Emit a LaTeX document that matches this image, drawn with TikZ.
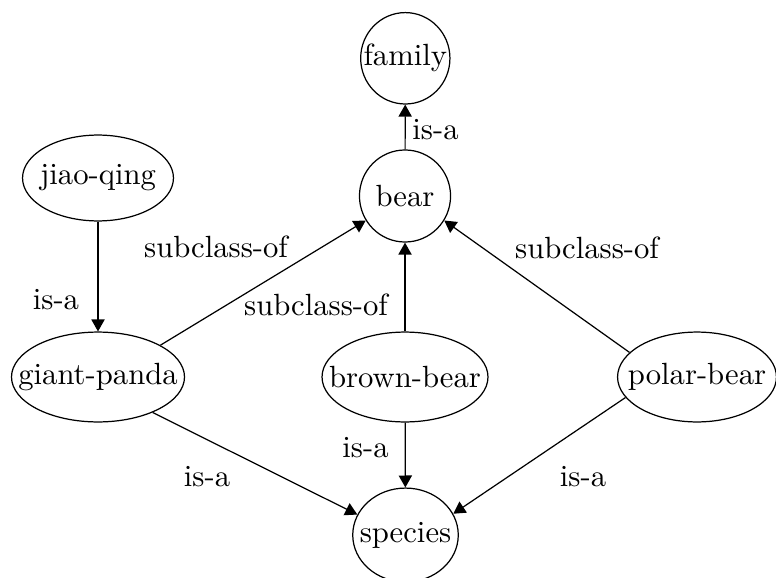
\documentclass[tikz,border=0pt]{standalone}
\usetikzlibrary{shapes.geometric,arrows.meta}
\newcommand\zb[1]{\makebox[0pt]{#1}}
\begin{document}
\begin{tikzpicture}[x=0.326pt,y=-0.326pt,
  nd/.style={draw,ellipse,inner sep=0pt,line width=0.4pt},
  lbl/.style={inner sep=0pt},
  edge/.style={-{Triangle[length=3.9pt,width=4.3pt]},line width=0.4pt}]
\useasboundingbox (0,0) rectangle (776,577);
% nodes
\node[nd,minimum width=29.1pt,minimum height=29.8pt] (family) at (405.3,58.3) {\zb{family}};
\node[nd,minimum width=29.7pt,minimum height=30.0pt] (bear) at (405,196) {\zb{bear}};
\node[nd,minimum width=49.2pt,minimum height=28.0pt] (jq) at (98,178) {\zb{jiao-qing}};
\node[nd,minimum width=56.4pt,minimum height=29.3pt] (gp) at (98,377) {\zb{giant-panda}};
\node[nd,minimum width=54.1pt,minimum height=29.3pt] (bb) at (405,377) {\zb{brown-bear}};
\node[nd,minimum width=51.8pt,minimum height=29.3pt] (pb) at (697,377) {\zb{polar-bear}};
\node[nd,minimum width=34.4pt,minimum height=30.6pt] (species) at (405.5,535) {\zb{species}};
% edges
\draw[edge] (bear) -- (family);
\draw[edge] (jq) -- (gp);
\draw[edge] (gp.27) -- (bear.212);
\draw[edge] (bb) -- (bear);
\draw[edge] (pb.160.8) -- (bear.328.4);
\draw[edge] (gp.-33.2) -- (species.157);
\draw[edge] (bb) -- (species);
\draw[edge] (pb.196.9) -- (species.24.8);
% labels
\node[lbl] (l1) at (435.5,130) {is-a};
\node[lbl] (l2) at (56,300) {is-a};
\node[lbl] (l3) at (216,247) {subclass-of};
\node[lbl] (l4) at (316,305) {subclass-of};
\node[lbl] (l5) at (587,248) {subclass-of};
\node[lbl] (l6) at (365.5,448) {is-a};
\node[lbl] (l7) at (207,477) {is-a};
\node[lbl] (l8) at (583,477) {is-a};
\end{tikzpicture}
\end{document}
